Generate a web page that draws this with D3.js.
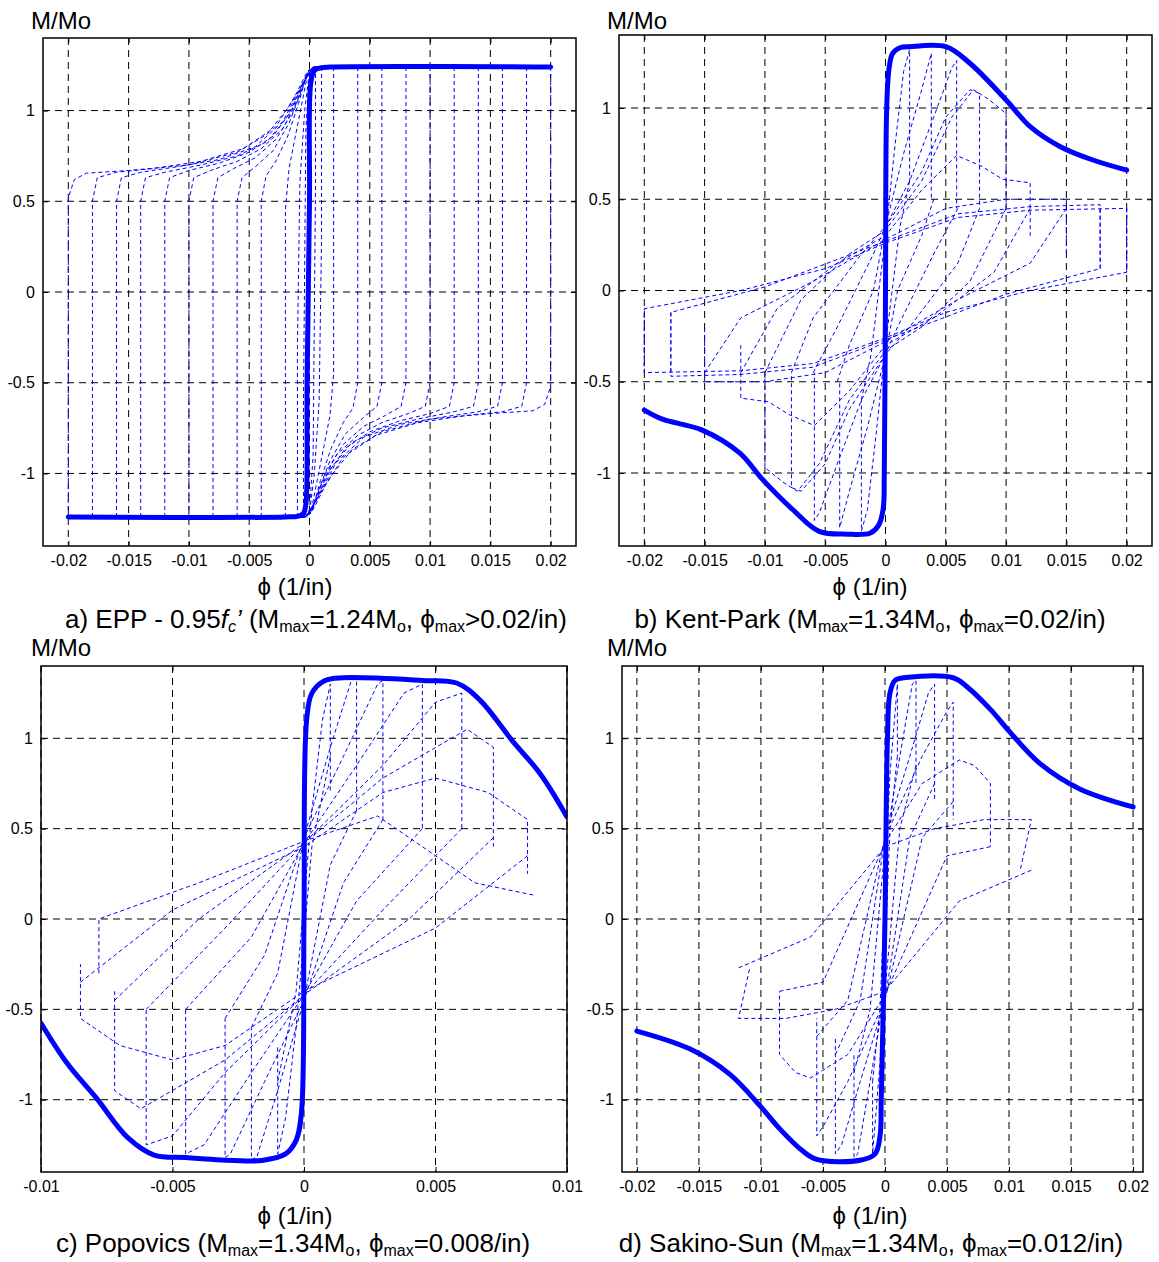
<!DOCTYPE html>
<html lang="en">
<head>
<meta charset="utf-8">
<title>M/Mo - curvature hysteresis</title>
<script src="https://cdn.jsdelivr.net/npm/d3@7"></script>
<style>
body { margin: 0; background: #fff; }
text { font-family: "Liberation Sans", Arial, sans-serif; fill: #000; }
</style>
</head>
<body>
<svg id="fig" width="1159" height="1262"></svg>
<script type="text/javascript">

//////////////////////////////////////
// tick labels
var xTicksWide = [-0.02, -0.015, -0.01, -0.005, 0, 0.005, 0.01, 0.015, 0.02];
var xTicksNarrow = [-0.01, -0.005, 0, 0.005, 0.01];
var yTicks = [-1, -0.5, 0, 0.5, 1];

//////////////////////////////////////
// envelopes (thick curves), [phi, M/Mo]
var envA = [[-0.02,-1.24],[-0.002,-1.24],[-0.0009,-1.235],[-0.0005,-1.22],[-0.0003,-1.17],[-0.0002,-0.5],
  [0,0.5],[0.0001,1.15],[0.0004,1.22],[0.0009,1.235],[0.0017,1.24],[0.02,1.24]];
var envB = [[-0.02,-0.655],[-0.0185,-0.705],[-0.0152,-0.765],[-0.0121,-0.89],[-0.0102,-1.035],[-0.0077,-1.2],
  [-0.0055,-1.32],[-0.0032,-1.335],[-0.0013,-1.33],[-0.0006,-1.29],[-0.0002,-1.2],[-0.0001,-1.0],[0,0],
  [0.0001,1.0],[0.0003,1.22],[0.0006,1.30],[0.0012,1.33],[0.002,1.336],[0.005,1.336],[0.007,1.245],
  [0.01,1.044],[0.012,0.898],[0.0145,0.788],[0.0172,0.715],[0.02,0.66]];
var envC = [[-0.01,-0.577],[-0.009,-0.80],[-0.0079,-0.99],[-0.0067,-1.21],[-0.0057,-1.306],[-0.0045,-1.32],
  [-0.0027,-1.336],[-0.0016,-1.336],[-0.0007,-1.30],[-0.0003,-1.225],[-0.0001,-1.077],[0,0],[0.0001,1.1],
  [0.0003,1.25],[0.0008,1.32],[0.0015,1.335],[0.0045,1.32],[0.0058,1.306],[0.0067,1.21],[0.0079,0.99],
  [0.009,0.80],[0.01,0.565]];
var envD = [[-0.02,-0.62],[-0.0157,-0.72],[-0.0125,-0.86],[-0.01,-1.04],[-0.0085,-1.16],[-0.0067,-1.28],
  [-0.0055,-1.33],[-0.002,-1.335],[-0.0008,-1.3],[-0.0004,-1.2],[-0.0003,-1.0],[0,0],[0.0002,1.0],
  [0.0004,1.25],[0.0008,1.32],[0.0015,1.335],[0.0055,1.335],[0.0067,1.28],[0.0085,1.16],[0.01,1.04],
  [0.0125,0.86],[0.0157,0.72],[0.02,0.62]];

//////////////////////////////////////
// dashed cycles: half loops from the negative side to the positive unloading end;
// the other half of each loop is the same path turned through the origin
var loopsA = [
  [[-0.0005,-1.24],[-0.0005,-0.6],[-0.0003,0.9],[0,1.2],[0.0005,1.24]],
  [[-0.001,-1.24],[-0.001,-0.3],[-0.0008,0.6],[-0.0004,1.0],[0,1.22],[0.001,1.24]],
  [[-0.002,-1.24],[-0.002,0.45],[-0.0017,0.68],[-0.0012,0.85],[-0.0006,1.05],[-0.0001,1.22],[0.0005,1.24],[0.002,1.24]],
  [[-0.004,-1.24],[-0.004,0.5],[-0.0036,0.64],[-0.0028,0.72],[-0.0018,0.86],[-0.0009,1.04],[-0.0002,1.21],[0.0005,1.24],[0.004,1.24]],
  [[-0.006,-1.24],[-0.006,0.5],[-0.0056,0.63],[-0.0045,0.69],[-0.003,0.78],[-0.0017,0.93],[-0.0007,1.1],[-0.0001,1.22],[0.0005,1.24],[0.006,1.24]],
  [[-0.008,-1.24],[-0.008,0.5],[-0.0076,0.63],[-0.0063,0.68],[-0.0045,0.74],[-0.0028,0.84],[-0.0014,0.99],[-0.0005,1.14],[0,1.23],[0.0005,1.24],[0.008,1.24]],
  [[-0.01,-1.24],[-0.01,0.5],[-0.0096,0.63],[-0.0082,0.67],[-0.006,0.72],[-0.004,0.79],[-0.0022,0.9],[-0.001,1.06],[-0.0003,1.19],[0.0005,1.24],[0.01,1.24]],
  [[-0.012,-1.24],[-0.012,0.5],[-0.0116,0.63],[-0.01,0.67],[-0.0075,0.71],[-0.005,0.77],[-0.003,0.86],[-0.0015,1.0],[-0.0005,1.16],[0.0003,1.24],[0.012,1.24]],
  [[-0.014,-1.24],[-0.014,0.5],[-0.0136,0.63],[-0.012,0.66],[-0.009,0.70],[-0.006,0.75],[-0.0035,0.83],[-0.0018,0.97],[-0.0006,1.14],[0.0003,1.24],[0.014,1.24]],
  [[-0.016,-1.24],[-0.016,0.5],[-0.0156,0.63],[-0.014,0.66],[-0.011,0.69],[-0.0075,0.73],[-0.0045,0.8],[-0.0022,0.94],[-0.0008,1.12],[0.0003,1.24],[0.016,1.24]],
  [[-0.018,-1.24],[-0.018,0.5],[-0.0176,0.63],[-0.016,0.66],[-0.013,0.68],[-0.009,0.72],[-0.0055,0.79],[-0.0028,0.91],[-0.001,1.1],[0.0003,1.24],[0.018,1.24]],
  [[-0.02,-1.24],[-0.02,0.52],[-0.0195,0.62],[-0.0185,0.655],[-0.015,0.67],[-0.01,0.70],[-0.006,0.77],[-0.0035,0.87],[-0.0015,1.04],[-0.0003,1.2],[0.0003,1.24],[0.02,1.24]]
];
var loopsB = [
  [[-0.002,-0.6],[-0.0012,-0.35],[0,0.3],[0.0008,0.8],[0.0015,1.2],[0.002,1.32],[0.002,0.6]],
  [[-0.004,-0.5],[-0.003,-0.3],[-0.001,0.0],[0,0.35],[0.0015,0.75],[0.003,1.1],[0.0038,1.3],[0.0038,0.5]],
  [[-0.006,-0.45],[-0.004,-0.2],[-0.001,0.2],[0,0.35],[0.002,0.6],[0.004,0.95],[0.0055,1.22],[0.0059,1.26],[0.0059,0.45]],
  [[-0.0078,-0.45],[-0.006,-0.15],[-0.002,0.2],[0,0.35],[0.003,0.65],[0.005,0.95],[0.007,1.1],[0.0078,1.08],[0.0078,0.45]],
  [[-0.01,-0.45],[-0.007,-0.05],[-0.003,0.2],[0,0.33],[0.003,0.6],[0.0055,0.95],[0.0073,1.1],[0.0085,1.05],[0.01,0.97],[0.01,0.45]],
  [[-0.012,-0.45],[-0.009,-0.1],[-0.004,0.15],[0,0.3],[0.003,0.55],[0.0059,0.74],[0.008,0.68],[0.0097,0.61],[0.012,0.59],[0.012,0.3]],
  [[-0.015,-0.45],[-0.012,-0.15],[-0.006,0.05],[0,0.28],[0.005,0.45],[0.01,0.5],[0.015,0.5],[0.015,0.2]],
  [[-0.0178,-0.45],[-0.0178,-0.12],[-0.01,0.02],[0,0.27],[0.006,0.42],[0.012,0.46],[0.0178,0.47],[0.0178,0.12]],
  [[-0.02,-0.45],[-0.02,-0.1],[-0.012,0.0],[-0.005,0.12],[0,0.26],[0.006,0.4],[0.012,0.44],[0.02,0.45],[0.02,0.1]]
];
var loopsC = [
  [[-0.001,-0.9],[-0.0003,-0.4],[0,0.1],[0.0003,0.6],[0.0007,1.1],[0.001,1.3],[0.001,0.7]],
  [[-0.002,-0.6],[-0.001,-0.3],[0,0.45],[0.001,0.95],[0.0018,1.32],[0.002,1.33],[0.002,0.6]],
  [[-0.003,-0.55],[-0.0015,-0.2],[0,0.45],[0.0015,0.9],[0.0028,1.3],[0.003,1.32],[0.003,0.55]],
  [[-0.0045,-0.5],[-0.002,-0.1],[0,0.42],[0.002,0.85],[0.0038,1.25],[0.0045,1.3],[0.0045,0.5]],
  [[-0.006,-0.5],[-0.003,-0.05],[0,0.42],[0.003,0.85],[0.005,1.2],[0.006,1.25],[0.006,0.5]],
  [[-0.0072,-0.45],[-0.004,0.0],[0,0.42],[0.003,0.78],[0.0062,1.05],[0.0072,0.95],[0.0072,0.4]],
  [[-0.0085,-0.35],[-0.005,0.05],[0,0.4],[0.003,0.7],[0.005,0.78],[0.007,0.7],[0.0085,0.55],[0.0085,0.25]]
];
// last cycle of c) is not turned, it is kept whole
var lastC = [[-0.0078,-0.3],[-0.0078,0.0],[-0.004,0.2],[0,0.43],[0.0028,0.57],[0.005,0.35],[0.0065,0.2],[0.0088,0.13]];
var loopsD = [
  [[-0.001,-0.9],[-0.0004,-0.5],[0,0.2],[0.0004,0.8],[0.001,1.3],[0.001,0.9]],
  [[-0.0025,-0.85],[-0.0012,-0.5],[0,0.4],[0.0012,0.9],[0.0022,1.3],[0.0025,1.32],[0.0025,0.75]],
  [[-0.004,-0.75],[-0.002,-0.45],[0,0.45],[0.002,0.9],[0.0035,1.25],[0.004,1.3],[0.004,0.65]],
  [[-0.0055,-0.65],[-0.003,-0.45],[0,0.45],[0.003,0.9],[0.005,1.15],[0.0055,1.2],[0.0055,0.55]],
  [[-0.0085,-0.4],[-0.005,-0.35],[0,0.42],[0.003,0.75],[0.006,0.88],[0.0072,0.85],[0.0085,0.75],[0.0085,0.4]],
  [[-0.0118,-0.27],[-0.006,-0.1],[0,0.4],[0.004,0.5],[0.008,0.55],[0.0118,0.55],[0.0109,0.27]]
];

//////////////////////////////////////
// panel frames
var panels = [
  { env: envA, loops: loopsA, whole: [], box: [43, 38, 576, 546], xd: [-0.0221, 0.0221], xt: xTicksWide,
    ylab: [31, 29], xlab: [295, 595], cap: [316, 628] },
  { env: envB, loops: loopsB, whole: [], box: [619, 35, 1152, 546], xd: [-0.0221, 0.0221], xt: xTicksWide,
    ylab: [607, 29], xlab: [870, 595], cap: [870, 628] },
  { env: envC, loops: loopsC, whole: [lastC], box: [41, 666, 567, 1172], xd: [-0.01, 0.01], xt: xTicksNarrow,
    ylab: [31, 656], xlab: [295, 1224], cap: [293, 1252] },
  { env: envD, loops: loopsD, whole: [], box: [622, 666, 1143, 1172], xd: [-0.0212, 0.0208], xt: xTicksWide,
    ylab: [607, 656], xlab: [870, 1224], cap: [871, 1252] }
];

var svg = d3.select("#fig");
var smooth = d3.line().curve(d3.curveCatmullRom.alpha(0.5));
var straight = d3.line();
function fmt(d) { return d === 0 ? "0" : String(d); }

function draw_panel(p, i) {
  var x = d3.scaleLinear().domain(p.xd).range([p.box[0], p.box[2]]);
  var y = d3.scaleLinear().domain([-1.4, 1.4]).range([p.box[3], p.box[1]]);
  var w = p.box[2] - p.box[0], h = p.box[3] - p.box[1];
  var g = svg.append("g");
  function scaled(pts) { return pts.map(function(q) { return [x(q[0]), y(q[1])]; }); }

  g.append("clipPath").attr("id", "clip" + i).append("rect")
    .attr("x", p.box[0]).attr("y", p.box[1]).attr("width", w).attr("height", h);

  // grid
  g.selectAll(".gx").data(p.xt).enter().append("line")
    .attr("x1", d => x(d)).attr("x2", d => x(d)).attr("y1", p.box[1]).attr("y2", p.box[3])
    .attr("stroke", "#000").attr("stroke-width", 1).attr("stroke-dasharray", "7,5");
  g.selectAll(".gy").data(yTicks).enter().append("line")
    .attr("y1", d => y(d)).attr("y2", d => y(d)).attr("x1", p.box[0]).attr("x2", p.box[2])
    .attr("stroke", "#000").attr("stroke-width", 1).attr("stroke-dasharray", "7,5");

  var plot = g.append("g").attr("clip-path", "url(#clip" + i + ")");
  // dashed cycles (each half and its turned copy)
  var paths = [];
  p.loops.forEach(function(hl) {
    paths.push(hl);
    paths.push(hl.map(function(q) { return [-q[0], -q[1]]; }));
  });
  p.whole.forEach(function(wl) { paths.push(wl); });
  plot.selectAll(".cyc").data(paths).enter().append("path")
    .attr("d", function(d) { return straight(scaled(d)); })
    .attr("fill", "none").attr("stroke", "#0000ff").attr("stroke-width", 1)
    .attr("stroke-dasharray", "4,3");
  // envelope
  plot.append("path")
    .attr("d", smooth(scaled(p.env)))
    .attr("fill", "none").attr("stroke", "#0000ff").attr("stroke-width", 5)
    .attr("stroke-linejoin", "round").attr("stroke-linecap", "round");

  // axes, ticks pointing inwards
  var ax = d3.axisBottom(x).tickValues(p.xt).tickFormat(fmt).tickSize(-5).tickPadding(9);
  var ay = d3.axisLeft(y).tickValues(yTicks).tickFormat(fmt).tickSize(-5).tickPadding(8);
  g.append("g").attr("transform", "translate(0," + p.box[3] + ")").call(ax);
  g.append("g").attr("transform", "translate(" + p.box[0] + ",0)").call(ay);
  g.append("g").attr("transform", "translate(0," + p.box[1] + ")")
    .call(d3.axisTop(x).tickValues(p.xt).tickFormat("").tickSize(-5));
  g.append("g").attr("transform", "translate(" + p.box[2] + ",0)")
    .call(d3.axisRight(y).tickValues(yTicks).tickFormat("").tickSize(-5));
  g.selectAll(".domain").remove();
  g.selectAll(".tick line").attr("stroke", "#000");
  g.selectAll(".tick text").style("font-size", "16px").style("font-family", "'Liberation Sans', Arial, sans-serif");

  g.append("rect").attr("x", p.box[0]).attr("y", p.box[1]).attr("width", w).attr("height", h)
    .attr("fill", "none").attr("stroke", "#000").attr("stroke-width", 1.5);

  g.append("text").attr("x", p.ylab[0]).attr("y", p.ylab[1]).style("font-size", "24px").text("M/Mo");
  g.append("text").attr("x", p.xlab[0]).attr("y", p.xlab[1]).attr("text-anchor", "middle")
    .style("font-size", "24px").text("\u03d5 (1/in)");
}

panels.forEach(draw_panel);

//////////////////////////////////////
// captions
function caption(p, parts) {
  var t = svg.append("text").attr("x", p.cap[0]).attr("y", p.cap[1])
    .attr("text-anchor", "middle").style("font-size", "26px");
  parts.forEach(function(s) {
    var ts = t.append("tspan").text(s[0]);
    if (s[1] === "sub") ts.style("font-size", "16px").attr("dy", 4);
    if (s[1] === "up") ts.attr("dy", -4);
    if (s[1] === "it") ts.style("font-style", "italic");
    if (s[1] === "itsub") ts.style("font-style", "italic").style("font-size", "16px").attr("dy", 4);
    if (s[1] === "itup") ts.style("font-style", "italic").attr("dy", -4);
  });
}
caption(panels[0], [["a) EPP - 0.95"], ["f", "it"], ["c", "itsub"], ["\u2019", "itup"], [" (M"], ["max", "sub"],
  ["=1.24M", "up"], ["o", "sub"], [", \u03d5", "up"], ["max", "sub"], [">0.02/in)", "up"]]);
caption(panels[1], [["b) Kent-Park (M"], ["max", "sub"], ["=1.34M", "up"], ["o", "sub"], [", \u03d5", "up"],
  ["max", "sub"], ["=0.02/in)", "up"]]);
caption(panels[2], [["c) Popovics (M"], ["max", "sub"], ["=1.34M", "up"], ["o", "sub"], [", \u03d5", "up"],
  ["max", "sub"], ["=0.008/in)", "up"]]);
caption(panels[3], [["d) Sakino-Sun (M"], ["max", "sub"], ["=1.34M", "up"], ["o", "sub"], [", \u03d5", "up"],
  ["max", "sub"], ["=0.012/in)", "up"]]);

</script>
</body>
</html>
